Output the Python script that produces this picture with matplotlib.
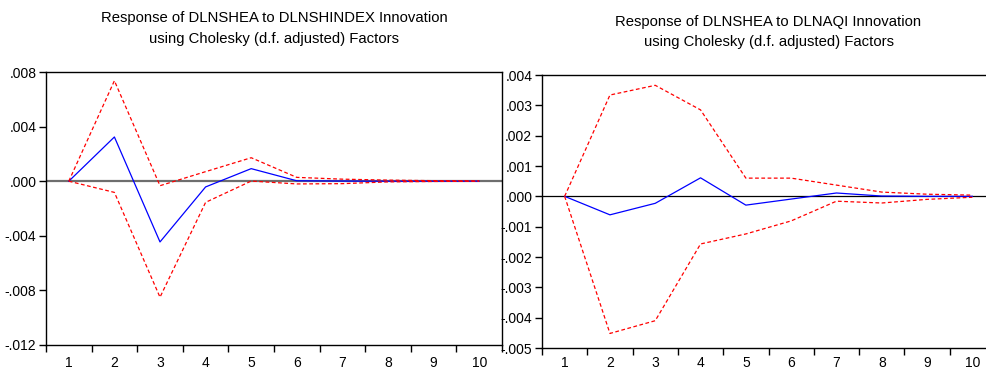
import matplotlib
matplotlib.use("Agg")
import matplotlib.pyplot as plt
from matplotlib.ticker import FuncFormatter, FixedLocator

plt.rcParams['font.family'] = ['Liberation Sans', 'DejaVu Sans']

periods = [1, 2, 3, 4, 5, 6, 7, 8, 9, 10]

# Left: Response of DLNSHEA to DLNSHINDEX
resp_a = [0.0, 0.00324, -0.00445, -0.00042, 0.00092, 0.00003, 0.00001, 0.0, 0.0, 0.0]
upper_a = [0.0, 0.00736, -0.00033, 0.00070, 0.00172, 0.00028, 0.00015, 0.00008, 0.00004, 0.00002]
lower_a = [0.0, -0.00082, -0.00850, -0.00155, 0.00001, -0.00020, -0.00018, -0.00005, -0.00002, 0.0]

# Right: Response of DLNSHEA to DLNAQI
resp_b = [0.0, -0.00061, -0.00023, 0.00061, -0.00029, -0.00009, 0.00011, 0.00001, 0.0, 0.0]
upper_b = [0.0, 0.00334, 0.00366, 0.00285, 0.00060, 0.00060, 0.00037, 0.00014, 0.00007, 0.00004]
lower_b = [0.0, -0.00452, -0.00410, -0.00157, -0.00124, -0.00081, -0.00016, -0.00022, -0.00010, -0.00003]

title_a = ["Response of DLNSHEA to DLNSHINDEX Innovation", "using Cholesky (d.f. adjusted) Factors"]
title_b = ["Response of DLNSHEA to DLNAQI Innovation", "using Cholesky (d.f. adjusted) Factors"]

W, H = 986, 371
fig = plt.figure(figsize=(W / 100, H / 100), dpi=100)


def fmt(v, pos):
    if abs(v) < 1e-12:
        return ".000"
    return ("%.3f" % v).replace("0.", ".", 1)


def setup(ax, ylim, yticks, zero_color, zero_lw, xpad):
    ax.set_xlim(0.5, 10.5)
    ax.set_ylim(*ylim)
    ax.set_yticks(yticks)
    ax.yaxis.set_major_formatter(FuncFormatter(fmt))
    ax.set_xticks(periods)
    ax.set_xticklabels([str(p) for p in periods])
    ax.xaxis.set_minor_locator(FixedLocator([p + 0.5 for p in [0] + periods]))
    ax.tick_params(axis='x', which='major', length=0, pad=xpad, labelsize=10, colors='black')
    ax.tick_params(axis='x', which='minor', length=5, width=1, direction='out', color='black')
    ax.tick_params(axis='y', which='major', length=5, width=1, direction='out', pad=2, labelsize=10)
    for s in ax.spines.values():
        s.set_linewidth(1.0)
        s.set_color('black')
    ax.axhline(0, color=zero_color, lw=zero_lw, zorder=1)


# left panel
ax1 = fig.add_axes([46 / W, (H - 345) / H, 456 / W, 273 / H])
setup(ax1, (-0.012, 0.008), [-0.012, -0.008, -0.004, 0.0, 0.004, 0.008], '#6e6e6e', 1.6, 8)
ax1.plot(periods, upper_a, color='red', lw=0.9, ls=(0, (3, 2)), zorder=3)
ax1.plot(periods, lower_a, color='red', lw=0.9, ls=(0, (3, 2)), zorder=3)
ax1.plot(periods, resp_a, color='blue', lw=0.9, zorder=2)

# right panel (extends past the figure edge)
ax2 = fig.add_axes([542 / W, (H - 348) / H, 453 / W, 273 / H])
setup(ax2, (-0.005, 0.004), [-0.005, -0.004, -0.003, -0.002, -0.001, 0.0, 0.001, 0.002, 0.003, 0.004], 'black', 0.9, 6)
ax2.plot(periods, upper_b, color='red', lw=0.9, ls=(0, (3, 2)), zorder=3)
ax2.plot(periods, lower_b, color='red', lw=0.9, ls=(0, (3, 2)), zorder=3)
ax2.plot(periods, resp_b, color='blue', lw=0.9, zorder=2)

# titles
fs_t = 10.7
fig.text(274 / W, 1 - 18 / H, title_a[0], ha='center', va='center', fontsize=fs_t)
fig.text(274 / W, 1 - 39 / H, title_a[1], ha='center', va='center', fontsize=fs_t)
fig.text(768.5 / W, 1 - 22 / H, title_b[0], ha='center', va='center', fontsize=fs_t)
fig.text(768.5 / W, 1 - 42 / H, title_b[1], ha='center', va='center', fontsize=fs_t)

fig.savefig("out.png", dpi=100)
